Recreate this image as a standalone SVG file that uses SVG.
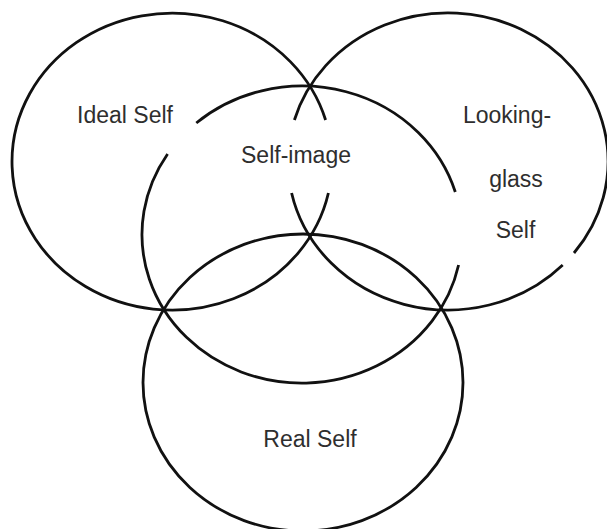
<svg xmlns="http://www.w3.org/2000/svg" width="607" height="529" viewBox="0 0 607 529">
<style>
.ring{fill:none;stroke:#111;stroke-width:2.8;stroke-linecap:butt}
.lbl{font-family:"Liberation Sans",Arial,sans-serif;font-size:23px;fill:#2e2e2e;text-anchor:middle}
</style>
<rect width="607" height="529" fill="#fff"/>
<g id="ideal-self">
<path class="ring" d="M328.4,193 A160,148.5 0 1 1 325.6,120"/>
<text class="lbl" x="125" y="123">Ideal Self</text>
</g>
<g id="looking-glass-self">
<path class="ring" d="M294.4,120 A160,148.5 0 1 1 574,253"/>
<path class="ring" d="M562.7,265 A160,148.5 0 0 1 291.6,193"/>
<text class="lbl" x="507" y="123">Looking-</text>
<text class="lbl" x="516" y="187">glass</text>
<text class="lbl" x="515.5" y="238">Self</text>
</g>
<g id="self-image">
<path class="ring" d="M196.3,123 A160,148.5 0 0 1 455.3,192"/>
<path class="ring" d="M458.6,265 A160,148.5 0 1 1 167.6,154"/>
<text class="lbl" x="296" y="163">Self-image</text>
</g>
<g id="real-self">
<ellipse class="ring" cx="303" cy="382.5" rx="160" ry="148.5"/>
<text class="lbl" x="310" y="447">Real Self</text>
</g>
</svg>
